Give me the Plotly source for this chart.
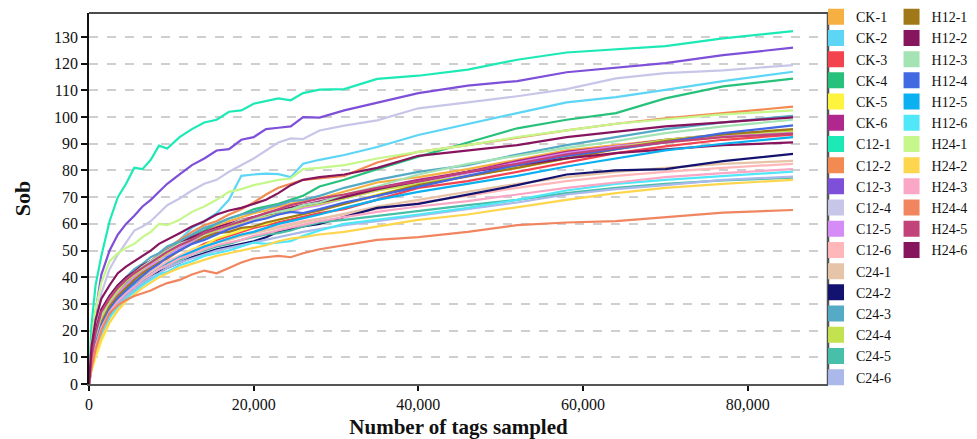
import plotly.graph_objects as go

# Number of tags sampled (x values shared by every rarefaction curve)
tags = [0, 300, 800, 1500, 2500, 3500, 4500, 5500, 6500, 7500, 8500, 9500, 11000, 12500,
        14000, 15500, 17000, 18500, 20000, 21500, 23000, 24500, 26000, 28000, 31000, 35000,
        40000, 46000, 52000, 58000, 64000, 70000, 77000, 85500]

sample_names = ["CK-1", "CK-2", "CK-3", "CK-4", "CK-5", "CK-6",
                "C12-1", "C12-2", "C12-3", "C12-4", "C12-5", "C12-6",
                "C24-1", "C24-2", "C24-3", "C24-4", "C24-5", "C24-6",
                "H12-1", "H12-2", "H12-3", "H12-4", "H12-5", "H12-6",
                "H24-1", "H24-2", "H24-3", "H24-4", "H24-5", "H24-6"]

sample_colors = ["#F5B041", "#5DD5F5", "#F2434E", "#27C17B", "#FFF43D", "#B0288E",
                 "#1DE9B6", "#F38A52", "#7E4FD8", "#C8C6E8", "#D68CF6", "#FFB7BA",
                 "#E6C4A7", "#13136F", "#55AAC6", "#C2E24F", "#48BFA9", "#AAB8EA",
                 "#A17818", "#86155E", "#A3E3B4", "#4169E1", "#0AB0F0", "#50E8F8",
                 "#C5F78A", "#FDD64E", "#F9A7C4", "#F08560", "#C2427A", "#86155E"]

# Sob values (observed species) per sample
ck1 = [0, 9, 17, 25, 30, 34, 37.5, 40, 42.5, 45, 47, 49.5, 52, 54.5, 57, 59, 61, 62.5, 64, 65, 66.5, 67.5, 68.5, 69.5, 72, 75.5, 77.5, 80.5, 84, 87.5, 89.5, 91.5, 93, 94.5]
ck2 = [0, 7, 14, 22, 28, 33, 36, 39.5, 42, 45, 47, 50, 54, 58.5, 61, 64, 69, 78, 78.5, 78.8, 78.6, 77.5, 82.5, 84, 85.8, 88.8, 93.3, 97.5, 101.5, 105.5, 107.5, 110.2, 113.5, 117]
ck3 = [0, 6, 12, 19, 25, 30, 33, 36, 38.5, 41, 43, 45.5, 48, 50, 52.5, 54, 55.5, 57, 58.5, 59.5, 60.5, 61.5, 62.5, 64, 65.5, 69, 73.5, 76, 79.5, 83, 86.5, 89, 91.5, 93.4]
ck4 = [0, 8, 16, 24, 31, 35, 38, 41, 43.5, 46, 47.5, 50, 53, 55.5, 57.5, 60, 62, 63.5, 65.5, 66.5, 67.5, 69, 70.5, 74, 76.5, 80.5, 85.2, 90.5, 95.8, 99, 101.5, 107, 111.5, 114.4]
ck5 = [0, 5, 10, 16, 23, 28, 32, 35, 38, 40.5, 43, 45, 48, 50.5, 52, 54.5, 56, 57.5, 59, 60, 61.5, 62.5, 63.5, 65, 67.5, 71, 74.5, 78, 81, 84.5, 88, 90.5, 92.5, 94.2]
ck6 = [0, 9, 18, 26, 32, 36, 39, 41.5, 44, 46, 48, 50, 52.5, 55, 57, 58.5, 60, 61.5, 62.5, 64, 65, 66, 67, 68.5, 70.5, 73.5, 76.5, 79.5, 83.5, 87, 89, 91.5, 93.5, 95]
c12_1 = [0, 22, 37, 48, 61, 70, 75, 81, 80.5, 84, 89.3, 88.2, 92.5, 95.5, 98, 99, 102, 102.5, 105, 106, 107, 106.3, 109, 110.3, 110.5, 114.3, 115.5, 117.8, 121.5, 124.2, 125.3, 126.6, 129.5, 132.2]
c12_2 = [0, 8, 15, 23, 29, 33, 37, 40, 43, 46, 48.5, 51, 54, 57, 59.5, 61, 63.5, 65.5, 68, 71, 73.5, 75, 76.5, 77, 78, 83, 87, 89.5, 92.3, 95, 97.5, 99.5, 101.5, 103.9]
c12_3 = [0, 14, 27, 41, 50, 56, 60, 63, 66.5, 69, 72, 75, 78.5, 82, 84.5, 87.5, 88, 91.5, 92.5, 95.5, 96, 96.5, 100, 99.8, 102.5, 105.5, 109, 111.8, 113.5, 116.8, 118.5, 120.2, 123.2, 126]
c12_4 = [0, 11, 22, 34, 43, 48.5, 53, 57.5, 59, 61, 64, 67, 69.5, 72.5, 75, 76.5, 79.5, 82, 84.5, 87.5, 90.5, 92, 91.8, 95, 96.8, 98.8, 103.3, 105.5, 107.8, 110.5, 114.5, 116.5, 117.5, 119.5]
c12_5 = [0, 8, 16, 24, 29.5, 34, 37, 40, 42, 44.5, 46.5, 48.5, 51, 53.5, 55, 57, 58.5, 60, 61.5, 62.5, 63.5, 64.5, 66, 67, 69.5, 72.5, 75.5, 79, 83, 86.5, 89, 91, 93, 94.5]
c12_6 = [0, 8, 15, 23, 28, 32, 35, 37.5, 40, 42, 44, 46, 48, 50, 51.5, 53, 54.5, 55.5, 57, 58, 59, 60, 61, 62, 63.5, 65.5, 68, 70.5, 73.5, 76, 78, 79.5, 81, 82.5]
c24_1 = [0, 7, 14, 21, 27, 31, 34.5, 37, 39.5, 41.5, 43.5, 45, 47.5, 49.5, 51, 53, 54, 55.5, 56.5, 57.5, 58.5, 59.5, 60.5, 62, 64, 66.5, 69, 72, 75, 77.5, 79.5, 81, 82.5, 83.6]
c24_2 = [0, 6, 13, 20, 26, 30, 33, 35.5, 38, 40, 42, 43.5, 45.5, 47.5, 49, 50.5, 51.5, 52.5, 53.5, 55, 57, 58, 59, 60, 62.5, 66, 67.5, 71, 74.5, 78.5, 80, 80.5, 83.5, 86.2]
c24_3 = [0, 10, 19, 27, 33, 37, 40, 43, 45, 47.5, 49, 51.5, 53.5, 56, 58.5, 60, 62, 63.5, 64.5, 66, 67, 68.5, 69, 70.5, 73.5, 76.5, 79.5, 82, 86, 89.5, 92.5, 95.5, 98, 100.5]
c24_4 = [0, 9, 17, 25, 31, 35, 38.5, 41, 43, 45.5, 47, 49, 52, 54, 56, 57.5, 59, 60.5, 62, 63, 64, 65, 66.5, 67.5, 69.5, 72.5, 75, 78, 81, 85, 88.5, 91.5, 93.5, 94.8]
c24_5 = [0, 8, 15, 22, 27, 31, 34, 36.5, 39, 41, 43, 44.5, 46.5, 48.5, 50, 51.5, 52.5, 54, 55, 56, 56.5, 57.5, 59, 60.5, 61.5, 63, 64.8, 67, 69, 71.5, 73.5, 75, 76.3, 77.3]
c24_6 = [0, 7, 14, 21, 26.5, 30, 33, 35.5, 38, 40, 41.5, 43.5, 45.5, 47, 48.5, 50, 51, 52, 53, 54, 55, 56, 57, 58, 59.5, 61, 63, 65.5, 68, 71, 73, 74.5, 76.5, 77.7]
h12_1 = [0, 8, 16, 23, 29, 33, 36, 39, 41.5, 43.5, 45.5, 47, 50, 52.5, 55, 56.5, 57, 58.5, 59, 60.5, 61.5, 62.5, 63.5, 65, 67.5, 70.5, 74.5, 77.8, 81, 84.5, 88, 91, 93.5, 95.5]
h12_2 = [0, 11, 20, 28, 33, 37, 40, 42, 44.5, 46, 48, 50, 52.5, 55, 56.5, 58.5, 60, 61, 62.5, 63.5, 64.5, 66, 67, 68, 70, 73, 76, 79.5, 82, 84.5, 86.5, 88, 89.5, 90.5]
h12_3 = [0, 9, 17, 26, 32, 36, 39, 41.5, 44, 46, 48, 50, 52.5, 54, 56.5, 58, 59.5, 61.5, 62, 63.5, 64.5, 65.5, 67, 68, 71, 74, 78.5, 82.5, 85.5, 88.5, 91, 94, 96.5, 99]
h12_4 = [0, 7, 15, 22, 28, 32, 35, 38, 40.5, 43, 45, 47.5, 50, 52.5, 54, 56, 58, 59.5, 61, 62, 63.5, 64.5, 64, 65.5, 68, 70.5, 74, 78, 82, 85.5, 88, 90.5, 94, 96.9]
h12_5 = [0, 7, 14, 21, 27, 31, 34, 37, 39, 41, 43, 45, 47.5, 49.5, 51.5, 53, 54.5, 56, 57, 58.5, 60, 61, 62, 63.5, 66, 69, 72, 75, 78, 81.5, 84.5, 87.5, 90, 92.5]
h12_6 = [0, 6, 12, 19, 25, 29, 32, 34.5, 37, 39, 41, 42, 44.5, 46, 48, 49, 50, 51.5, 53, 52.5, 53, 53.5, 55.5, 57.5, 60, 61.5, 63.5, 66, 69, 72.5, 75, 76.5, 78, 79.6]
h24_1 = [0, 15, 28, 38, 46, 49, 51, 52.5, 55, 57, 60, 59.5, 61.5, 64.5, 66.5, 69, 72, 73, 74.5, 75.5, 76.5, 77, 80.5, 81, 82, 84.5, 87, 89.5, 92.5, 95, 97.5, 99.2, 101, 102.5]
h24_2 = [0, 5, 11, 17, 23, 27.5, 31, 33.5, 36, 38, 40, 41.5, 43.5, 45, 46.5, 48, 49, 50, 51, 52, 53.5, 54.5, 55, 56, 57, 59, 61.5, 63.5, 66.3, 69, 71.5, 73.5, 75, 76.5]
h24_3 = [0, 7, 14, 21, 27, 31, 34, 36.5, 39, 41, 43, 44.5, 47, 48.5, 50.5, 52, 53, 54, 55.5, 56.5, 57.5, 58.5, 59.5, 61, 62.5, 64.5, 66.5, 68.5, 71, 73.5, 75.5, 77.5, 79, 80.5]
h24_4 = [0, 6, 13, 20, 26.5, 29.5, 31.5, 33, 34, 35, 36.5, 37.8, 39, 41, 42.5, 41.5, 43.5, 45.5, 47, 47.5, 48, 47.5, 49, 50.5, 52, 54, 55, 57, 59.5, 60.5, 61, 62.5, 64.2, 65.2]
h24_5 = [0, 10, 19, 27, 32, 36, 39, 41.5, 43.5, 45.5, 47.5, 49.5, 52, 54, 56.5, 58, 59.5, 61, 62.5, 64, 65.5, 67, 68, 69.5, 71, 73.5, 76, 79.5, 82.5, 86, 88.5, 90.5, 92.5, 93.8]
h24_6 = [0, 14, 24, 32, 37, 41.5, 44, 46, 48, 50, 52.5, 54, 56.5, 59, 61, 63.5, 65, 66, 67.5, 69, 71.5, 74.5, 76.5, 77.5, 78.5, 81, 85.5, 87.5, 89.5, 92.5, 94.5, 96.5, 98, 99.9]

sob_series = [ck1, ck2, ck3, ck4, ck5, ck6,
              c12_1, c12_2, c12_3, c12_4, c12_5, c12_6,
              c24_1, c24_2, c24_3, c24_4, c24_5, c24_6,
              h12_1, h12_2, h12_3, h12_4, h12_5, h12_6,
              h24_1, h24_2, h24_3, h24_4, h24_5, h24_6]

x_ticks = [0, 20000, 40000, 60000, 80000]

FONT = "Liberation Serif, Times New Roman, serif"

fig = go.Figure()

# curves
for name, color, vals in zip(sample_names, sample_colors, sob_series):
    fig.add_trace(go.Scatter(x=tags, y=vals, mode="lines", name=name,
                             line=dict(color=color, width=2.2),
                             showlegend=False, hoverinfo="x+y+name"))

# legend entries (square swatches), split into two columns
for i, (name, color) in enumerate(zip(sample_names, sample_colors)):
    fig.add_trace(go.Scatter(x=[None], y=[None], mode="markers", name=name,
                             marker=dict(symbol="square", size=16, color=color),
                             legend="legend" if i < 18 else "legend2",
                             showlegend=True))

legend_common = dict(font=dict(family=FONT, size=14, color="#111"),
                     bgcolor="rgba(0,0,0,0)", borderwidth=0,
                     itemsizing="trace", yanchor="top", xanchor="left",
                     tracegroupgap=0, maxheight=1)

# The page body adds an 8px offset; the figure is placed to compensate
# (it is wider than the window so the right-hand legend is not clipped).
fig.update_layout(
    width=1000, height=431,
    margin=dict(l=81, r=180, t=5, b=55, autoexpand=False),
    paper_bgcolor="white", plot_bgcolor="white",
    font=dict(family=FONT, size=16, color="#111"),
    legend=dict(x=0.9838, y=1.032, **legend_common),
    legend2=dict(x=1.086, y=1.032, **legend_common),
    xaxis=dict(range=[0, 89750], tickvals=x_ticks, tickformat=",",
               showgrid=False, zeroline=False,
               showline=True, linecolor="#555", linewidth=2,
               ticks="outside", ticklen=5, tickwidth=2, tickcolor="#111",
               tickfont=dict(family=FONT, size=16, color="#111"),
               title=dict(text="<b>Number of tags sampled</b>",
                          font=dict(family=FONT, size=21, color="#111"),
                          standoff=8)),
    yaxis=dict(range=[0, 139], dtick=10, tick0=0,
               showgrid=True, gridcolor="#cfcfcf", griddash="dash", gridwidth=1.5,
               zeroline=False,
               showline=True, linecolor="#111", linewidth=1.5,
               ticks="outside", ticklen=6, tickwidth=2, tickcolor="#111",
               tickfont=dict(family=FONT, size=16, color="#111"),
               title=dict(text="<b>Sob</b>",
                          font=dict(family=FONT, size=22, color="#111"),
                          standoff=17)),
    shapes=[
        dict(type="line", xref="paper", yref="paper", x0=0, x1=1, y0=1, y1=1,
             line=dict(color="#111", width=1.5)),
        dict(type="line", xref="paper", yref="paper", x0=1, x1=1, y0=0, y1=1,
             line=dict(color="#555", width=2.5)),
    ],
)

fig.write_html("out.html")
